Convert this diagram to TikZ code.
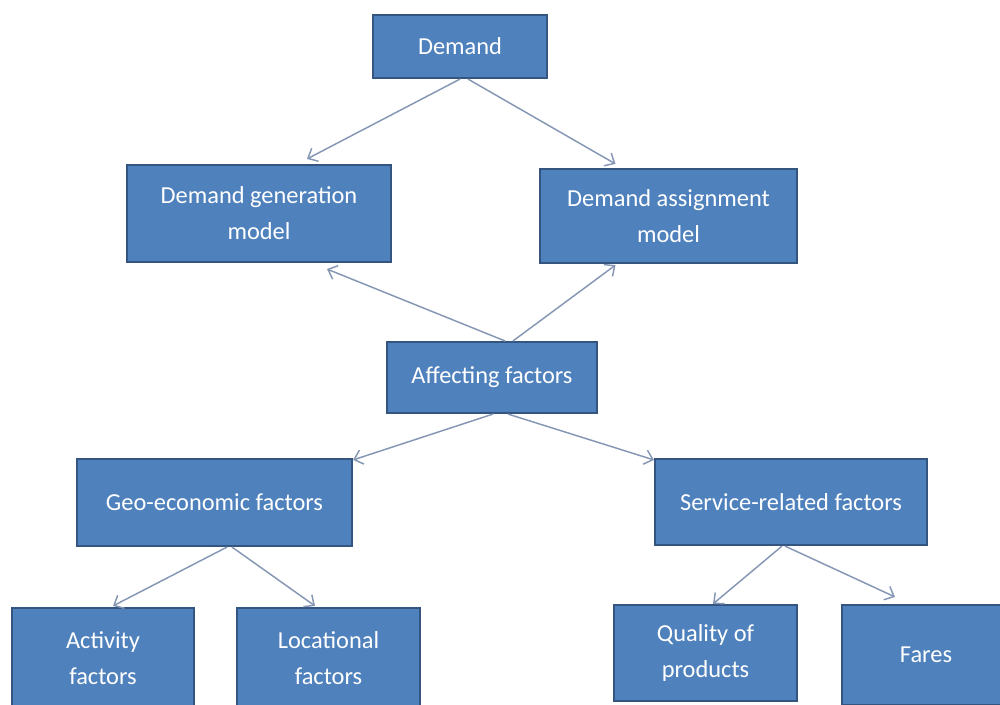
\documentclass[tikz,border=0pt]{standalone}
\usepackage{fontspec}
\setmainfont{Carlito}
\usetikzlibrary{arrows.meta,calc}

\definecolor{boxfill}{HTML}{4F81BD}
\definecolor{boxline}{HTML}{34557F}
\definecolor{linkcol}{HTML}{8597B5}

\tikzset{
  box/.style={draw=boxline, fill=boxfill, line width=1.6pt, inner sep=0pt,
    text=white, align=center, font=\fontsize{18.3}{27}\selectfont},
  link/.style={draw=linkcol, line width=1.1pt,
    -{Straight Barb[length=6pt,width=11pt,line width=1.1pt]}},
}

\begin{document}
\begin{tikzpicture}[x=0.75pt,y=-0.75pt]
  \useasboundingbox (0,0) rectangle (1000,704);
  \fill[white] (0,0) rectangle (1000,704);
  \clip (0,0) rectangle (1000,704);

  % boxes (centres and sizes in pixel units)
  \node[box, minimum width=130.5pt, minimum height=47.25pt] (dem) at (460,46.5) {Demand};
  \node[box, minimum width=198pt, minimum height=72.75pt] (dgm) at (259,213.5) {Demand generation\\model};
  \node[box, minimum width=192.75pt, minimum height=70.5pt] (dam) at (668.5,216) {Demand assignment\\model};
  \node[box, minimum width=157.5pt, minimum height=53.25pt] (aff) at (492,377.5) {Affecting factors};
  \node[box, minimum width=206.25pt, minimum height=65.25pt] (geo) at (214.5,502.5) {Geo-economic factors};
  \node[box, minimum width=204pt, minimum height=64.5pt] (svc) at (791,502) {Service-related factors};
  \node[box, minimum width=136.5pt, minimum height=75pt] (act) at (103,658) {Activity\\factors};
  \node[box, minimum width=137.25pt, minimum height=75pt] (loc) at (328.5,658) {Locational\\factors};
  \node[box, minimum width=137.25pt, minimum height=72pt] (qual) at (705.5,653) {Quality of\\products};
  \node[box, minimum width=126pt, minimum height=75pt] (fare) at (926,655) {Fares};

  % connectors
  \draw[link] (dem.south) -- ($(dgm.north)+(48,-5)$);
  \draw[link] ($(dem.south)+(8,0)$) -- ($(dam.north)+(-53,-4)$);
  \draw[link] ($(aff.north)+(13,0)$) -- ($(dgm.south)+(68,6)$);
  \draw[link] ($(aff.north)+(21,0)$) -- ($(dam.south)+(-53,1)$);
  \draw[link] ($(aff.south)+(1,0)$) -- ($(geo.north east)+(0,2)$);
  \draw[link] ($(aff.south)+(16,0)$) -- ($(svc.north west)+(0,2)$);
  \draw[link] ($(geo.south)+(12.5,0)$) -- ($(act.north)+(10,-1)$);
  \draw[link] ($(geo.south)+(17.5,0)$) -- ($(loc.north)+(-13.5,-1)$);
  \draw[link] ($(svc.south)+(-9,0)$) -- ($(qual.north)+(7.5,0)$);
  \draw[link] ($(svc.south)+(-6,0)$) -- ($(fare.north)+(-31,-7)$);
\end{tikzpicture}
\end{document}
